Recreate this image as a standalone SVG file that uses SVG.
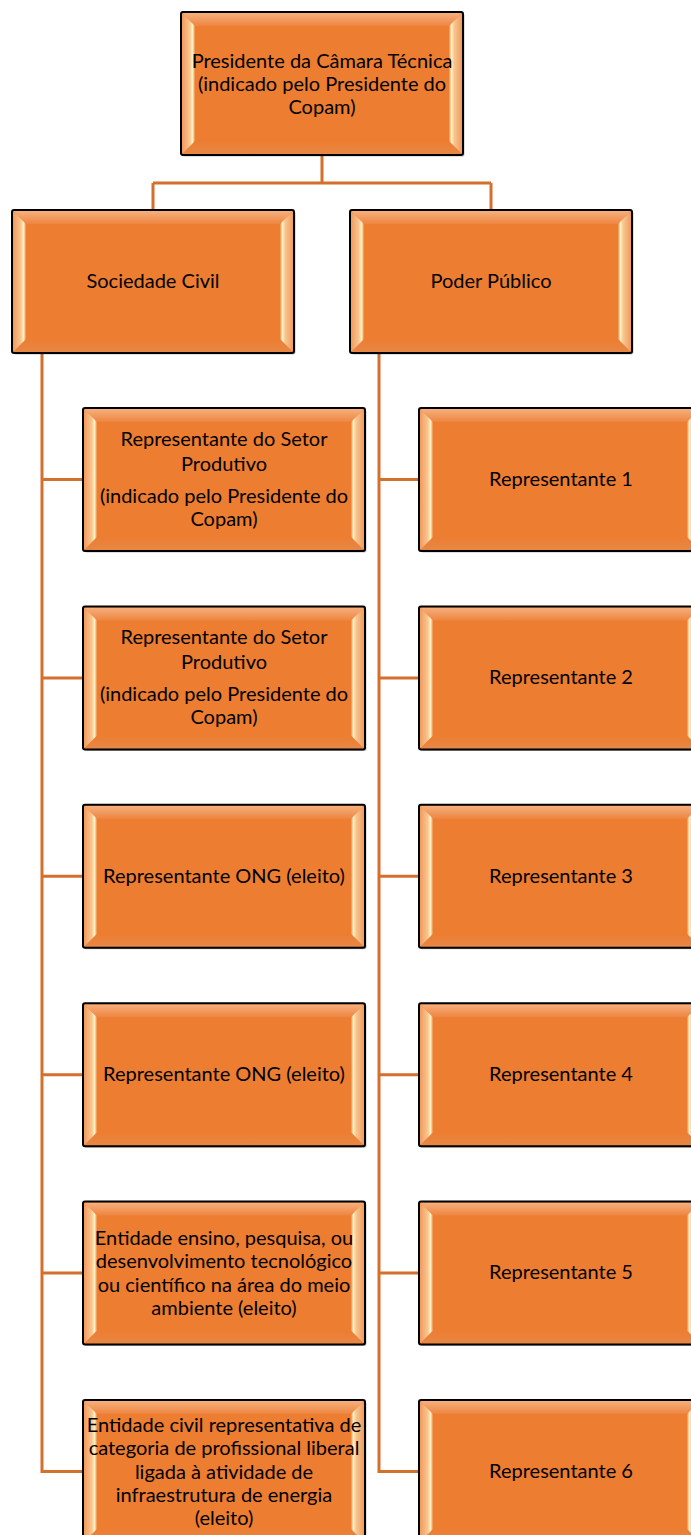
<svg xmlns="http://www.w3.org/2000/svg" xmlns:xlink="http://www.w3.org/1999/xlink" width="691" height="1535" viewBox="0 0 691 1535">
<style>
.t{font-family:Lato,"Liberation Sans",sans-serif;font-size:20px;fill:#000;text-anchor:middle}
.c{fill:none;stroke:#D4702C;stroke-width:3}
</style>
<defs>
<linearGradient id="gl" x1="0" y1="0" x2="1" y2="0">
<stop offset="0" stop-color="#F29A5C"/><stop offset="0.6" stop-color="#F8C690"/><stop offset="0.82" stop-color="#FFF3C6"/><stop offset="1" stop-color="#F0883F"/>
</linearGradient>
<linearGradient id="gr" x1="1" y1="0" x2="0" y2="0">
<stop offset="0" stop-color="#F29A5C"/><stop offset="0.6" stop-color="#F8C690"/><stop offset="0.82" stop-color="#FFF3C6"/><stop offset="1" stop-color="#F0883F"/>
</linearGradient>
<linearGradient id="gt" x1="0" y1="0" x2="0" y2="1">
<stop offset="0" stop-color="#F6B07E"/><stop offset="1" stop-color="#EE8540"/>
</linearGradient>
<linearGradient id="gb" x1="0" y1="1" x2="0" y2="0">
<stop offset="0" stop-color="#E78745"/><stop offset="1" stop-color="#ED7D31"/>
</linearGradient>
<symbol id="box" viewBox="0 0 282 143" overflow="visible">
<rect x="1.5" y="1.5" width="282" height="143" rx="2" fill="#000" opacity="0.25"/>
<rect x="0" y="0" width="282" height="143" rx="2" fill="#ED7D31"/>
<polygon points="1,1 281,1 268,14 14,14" fill="url(#gt)"/>
<polygon points="1,142 281,142 268,129 14,129" fill="url(#gb)"/>
<polygon points="1,1 14,14 14,129 1,142" fill="url(#gl)"/>
<polygon points="281,1 268,14 268,129 281,142" fill="url(#gr)"/>
<rect x="0" y="0" width="282" height="143" rx="2" fill="none" stroke="#000" stroke-width="2"/>
</symbol>
</defs>
<g id="connectors">
<path class="c" d="M322,155 V183 M153,183 H491 M153,183 V210 M491,183 V210"/>
<path class="c" d="M42,353 V1471.5 H83 M42,479.5 H83 M42,677.9 H83 M42,876.3 H83 M42,1074.7 H83 M42,1273.1 H83"/>
<path class="c" d="M379,353 V1471.5 H419 M379,479.5 H419 M379,677.9 H419 M379,876.3 H419 M379,1074.7 H419 M379,1273.1 H419"/>
</g>
<g id="n-presidente">
<use xlink:href="#box" x="181" y="12" width="282" height="143"/>
<text class="t" x="322"><tspan x="322" y="68">Presidente da Câmara Técnica</tspan><tspan x="322" y="91">(indicado pelo Presidente do</tspan><tspan x="322" y="114">Copam)</tspan></text>
</g>
<g id="n-sociedade">
<use xlink:href="#box" x="12" y="210" width="282" height="143"/>
<text class="t" x="153" y="288">Sociedade Civil</text>
</g>
<g id="n-poder">
<use xlink:href="#box" x="350" y="210" width="282" height="143"/>
<text class="t" x="491" y="288">Poder Público</text>
</g>
<g id="n-sc1">
<use xlink:href="#box" x="83" y="408" width="282" height="143"/>
<text class="t"><tspan x="224" y="446">Representante do Setor</tspan><tspan x="224" y="471">Produtivo</tspan><tspan x="224" y="503">(indicado pelo Presidente do</tspan><tspan x="224" y="526">Copam)</tspan></text>
</g>
<g id="n-sc2">
<use xlink:href="#box" x="83" y="606.4" width="282" height="143"/>
<text class="t"><tspan x="224" y="644.4">Representante do Setor</tspan><tspan x="224" y="669.4">Produtivo</tspan><tspan x="224" y="701.4">(indicado pelo Presidente do</tspan><tspan x="224" y="724.4">Copam)</tspan></text>
</g>
<g id="n-sc3">
<use xlink:href="#box" x="83" y="804.8" width="282" height="143"/>
<text class="t" x="224" y="883">Representante ONG (eleito)</text>
</g>
<g id="n-sc4">
<use xlink:href="#box" x="83" y="1003.2" width="282" height="143"/>
<text class="t" x="224" y="1081">Representante ONG (eleito)</text>
</g>
<g id="n-sc5">
<use xlink:href="#box" x="83" y="1201.6" width="282" height="143"/>
<text class="t"><tspan x="224" y="1245">Entidade ensino, pesquisa, ou</tspan><tspan x="224" y="1268">desenvolvimento tecnológico</tspan><tspan x="224" y="1292">ou científico na área do meio</tspan><tspan x="224" y="1315">ambiente (eleito)</tspan></text>
</g>
<g id="n-sc6">
<use xlink:href="#box" x="83" y="1400" width="282" height="143"/>
<text class="t"><tspan x="224" y="1432">Entidade civil representativa de</tspan><tspan x="224" y="1455">categoria de profissional liberal</tspan><tspan x="224" y="1479">ligada à atividade de</tspan><tspan x="224" y="1502">infraestrutura de energia</tspan><tspan x="224" y="1525">(eleito)</tspan></text>
</g>
<g id="n-pp1">
<use xlink:href="#box" x="419" y="408" width="282" height="143"/>
<text class="t" x="561" y="486">Representante 1</text>
</g>
<g id="n-pp2">
<use xlink:href="#box" x="419" y="606.4" width="282" height="143"/>
<text class="t" x="561" y="684.4">Representante 2</text>
</g>
<g id="n-pp3">
<use xlink:href="#box" x="419" y="804.8" width="282" height="143"/>
<text class="t" x="561" y="883">Representante 3</text>
</g>
<g id="n-pp4">
<use xlink:href="#box" x="419" y="1003.2" width="282" height="143"/>
<text class="t" x="561" y="1081">Representante 4</text>
</g>
<g id="n-pp5">
<use xlink:href="#box" x="419" y="1201.6" width="282" height="143"/>
<text class="t" x="561" y="1279">Representante 5</text>
</g>
<g id="n-pp6">
<use xlink:href="#box" x="419" y="1400" width="282" height="143"/>
<text class="t" x="561" y="1478">Representante 6</text>
</g>
</svg>
